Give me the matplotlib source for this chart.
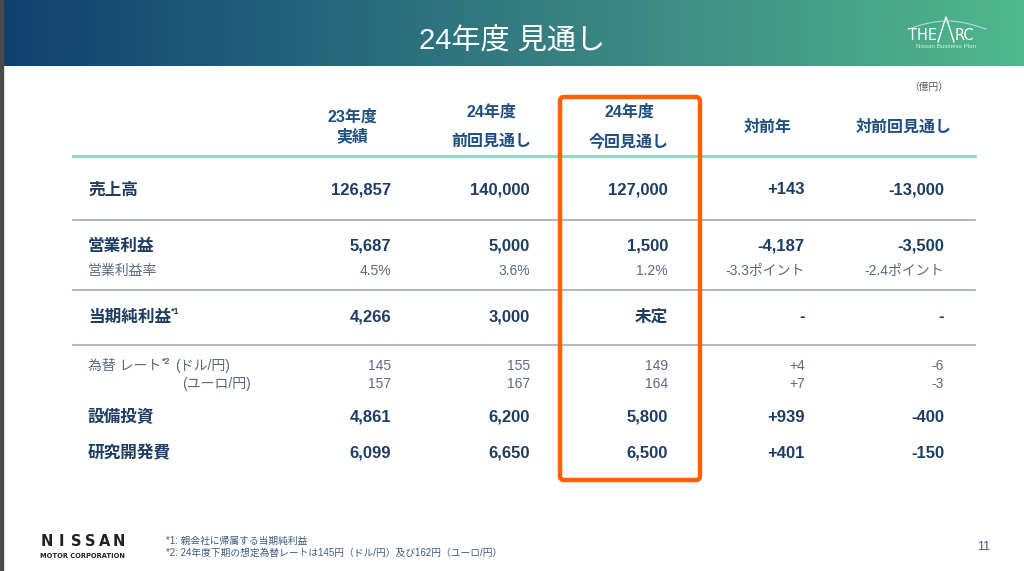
import numpy as np
import matplotlib
matplotlib.use("Agg")
import matplotlib.pyplot as plt
from matplotlib.patches import FancyBboxPatch, Rectangle
from matplotlib.colors import LinearSegmentedColormap

plt.rcParams['font.family'] = ['Liberation Sans', 'Noto Sans CJK JP', 'DejaVu Sans']

title = "24年度 見通し"
unit = "（億円）"
col_head = [("23年度", "実績"), ("24年度", "前回見通し"), ("24年度", "今回見通し"), ("対前年",), ("対前回見通し",)]

# table rows: label, values per column
labels = ["売上高", "営業利益", "営業利益率", "当期純利益", "為替 レート", "(ユーロ/円)", "設備投資", "研究開発費"]
sales = ["126,857", "140,000", "127,000", "+143", "-13,000"]
op_profit = ["5,687", "5,000", "1,500", "-4,187", "-3,500"]
op_margin = ["4.5%", "3.6%", "1.2%", "-3.3ポイント", "-2.4ポイント"]
net_income = ["4,266", "3,000", "未定", "-", "-"]
fx_usd = ["145", "155", "149", "+4", "-6"]
fx_eur = ["157", "167", "164", "+7", "-3"]
capex = ["4,861", "6,200", "5,800", "+939", "-400"]
rnd = ["6,099", "6,650", "6,500", "+401", "-150"]
rows = [sales, op_profit, op_margin, net_income, fx_usd, fx_eur, capex, rnd]
small = [False, False, True, False, True, True, False, False]

footnotes = ["*1: 親会社に帰属する当期純利益",
             "*2: 24年度下期の想定為替レートは145円（ドル/円）及び162円（ユーロ/円）"]
page = "11"

fig = plt.figure(figsize=(10.24, 5.71), dpi=100)
ax = fig.add_axes([0, 0, 1, 1])
ax.set_xlim(0, 1024)
ax.set_ylim(571, 0)
ax.axis("off")

# header band
cmap = LinearSegmentedColormap.from_list("hdr", ["#11406f", "#27687c", "#3f8f84", "#4fb88c"])
grad = np.linspace(0, 1, 256).reshape(1, -1)
ax.imshow(grad, cmap=cmap, aspect="auto", extent=[0, 1024, 66, 0], zorder=0)
ax.add_patch(Rectangle((0, 0), 3, 571, color="#4a4a4a", zorder=5))
ax.text(512, 42, title, color="white", fontsize=21, ha="center", va="center")

# THE ARC logo
ax.text(937, 35, "THE", color="white", fontsize=10.5, ha="right", va="center", family=["DejaVu Sans"])
ax.plot([938, 946, 954], [42, 17, 42], color="white", lw=1)
ax.text(955, 35, "RC", color="white", fontsize=10.5, ha="left", va="center", family=["DejaVu Sans"])
t = np.linspace(0, 1, 50)
ax.plot(908 + 78 * t, 29 - 8 * np.sin(np.pi * t), color="#c8e6ee", lw=0.8, alpha=0.8)
ax.text(946, 47, "Nissan Business Plan", color="#d8efe6", fontsize=4.5, ha="center", va="center")

navy = "#1e3d62"
head_col = "#1f4f80"
grey = "#5b6a80"

ax.text(948, 87, unit, color="#555555", fontsize=7, ha="right", va="center")

col_center = [352, 491, 629, 768, 904]
col_right = [391, 530, 668, 805, 944]

for i, h in enumerate(col_head):
    kw = dict(color=head_col, fontsize=11.5, fontweight="bold", ha="center", va="center")
    if len(h) == 1:
        ax.text(col_center[i], 127, h[0], **kw)
    elif i == 0:
        ax.text(col_center[i], 117, h[0], **kw)
        ax.text(col_center[i], 136, h[1], **kw)
    else:
        ax.text(col_center[i], 112, h[0], **kw)
        ax.text(col_center[i], 141, h[1], **kw)

ax.plot([73, 975], [156, 156], color="#84dcbd", lw=2)
for y in [220, 290, 345]:
    ax.plot([73, 975], [y, y], color="#a9b1be", lw=1.3)

row_y = [190, 246, 271, 317, 366, 384, 417, 453]
label_x = [88, 88, 88, 88, 88, 182, 88, 88]
for r, vals in enumerate(rows):
    y = row_y[r]
    if small[r]:
        fs, fw, c = 10, "normal", grey
    else:
        fs, fw, c = 12, "bold", navy
    lab = labels[r]
    ax.text(label_x[r], y, lab, color=c, fontsize=fs, fontweight=fw, ha="left", va="center")
    if r == 3:
        ax.text(label_x[r] + 83, y - 5, "*1", color=c, fontsize=6.5, fontweight=fw, ha="left", va="center")
    elif r == 4:
        ax.text(label_x[r] + 74, y - 4, "*2", color=c, fontsize=6.5, fontweight="bold", ha="left", va="center")
        ax.text(label_x[r] + 87, y, "(ドル/円)", color=c, fontsize=fs, ha="left", va="center")
    for j, v in enumerate(vals):
        ax.text(col_right[j], y, v, color=c, fontsize=fs, fontweight=fw, ha="right", va="center")

# highlight box
ax.add_patch(FancyBboxPatch((560, 97), 140, 383, boxstyle="round,pad=0,rounding_size=4",
                            fill=False, ec="#ff6100", lw=3.2, zorder=6))

# footer
for k, ch in enumerate("NISSAN"):
    ax.text(47 + 14.4 * k, 541, ch, color="#222222", fontsize=10.5, fontweight="bold",
            ha="center", va="center", family=["DejaVu Sans"])
ax.text(82, 556, "MOTOR CORPORATION", color="#222222", fontsize=4.8, fontweight="bold", ha="center", va="center",
        family=["DejaVu Sans"])
ax.text(166, 541, footnotes[0], color="#3d5a80", fontsize=7, ha="left", va="center")
ax.text(166, 553, footnotes[1], color="#3d5a80", fontsize=7, ha="left", va="center")
ax.text(984, 547, page, color="#4a5a75", fontsize=9, ha="center", va="center")

fig.savefig("out.png", dpi=100)
